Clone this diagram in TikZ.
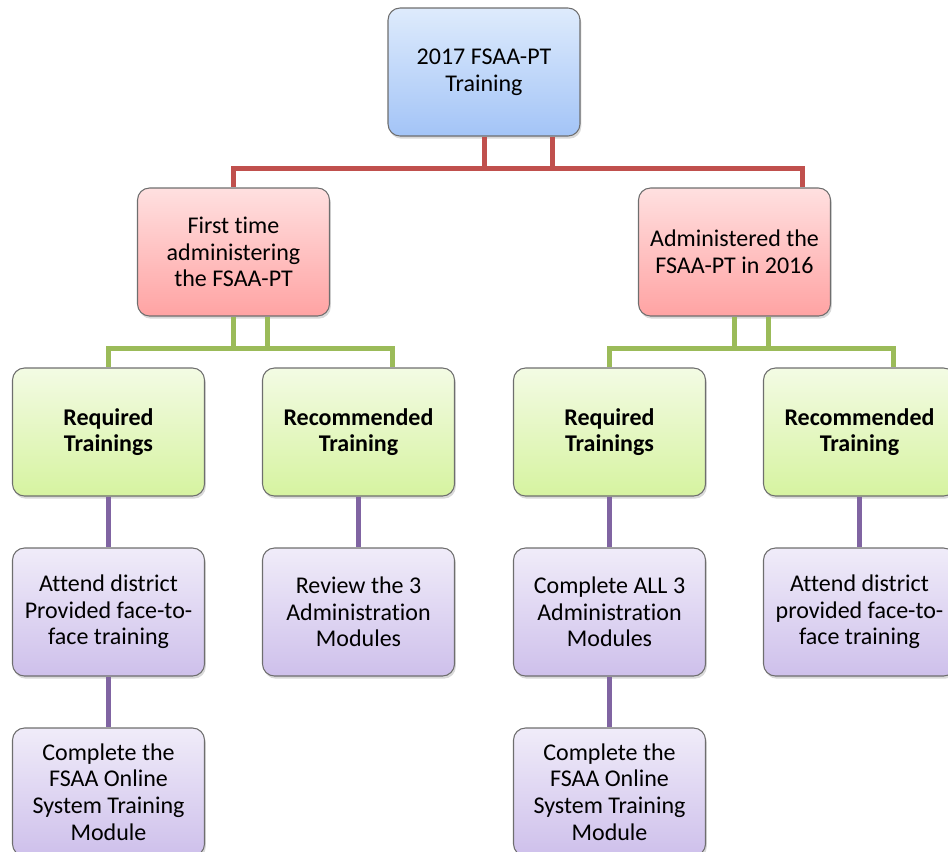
\documentclass[tikz,border=0pt]{standalone}
\usepackage{fontspec}
\setmainfont{Carlito}[Ligatures=NoCommon]
\usetikzlibrary{trees, shadows}

\definecolor{lineRed}{RGB}{192,80,77}
\definecolor{lineGreen}{RGB}{155,187,89}
\definecolor{linePurple}{RGB}{128,100,162}
\definecolor{boxEdge}{RGB}{110,110,110}

\begin{document}
\begin{tikzpicture}[
        level distance=135pt,
        level 1/.style={sibling distance=375.75pt,
            edge from parent/.style={draw=lineRed, line width=3.75pt}},
        level 2/.style={sibling distance=187.5pt,
            edge from parent/.style={draw=lineGreen, line width=3.75pt}},
        level 3/.style={edge from parent/.style={draw=linePurple, line width=3.75pt},
            edge from parent path={(\tikzparentnode.south) -- (\tikzchildnode.north)}},
        every node/.style={draw=boxEdge, line width=0.8pt, rounded corners=9pt, align=center,
            minimum width=144pt, minimum height=96pt, inner sep=2pt,
            font=\fontsize{18}{20}\selectfont,
            drop shadow={opacity=0.3, shadow xshift=1pt, shadow yshift=-2pt}},
        topbox/.style={top color={rgb,255:red,222;green,235;blue,252}, bottom color={rgb,255:red,163;green,196;blue,247}},
        pinkbox/.style={top color={rgb,255:red,255;green,224;blue,224}, bottom color={rgb,255:red,255;green,163;blue,163}},
        greenbox/.style={top color={rgb,255:red,243;green,251;blue,228}, bottom color={rgb,255:red,214;green,243;blue,160}, font=\fontsize{18}{20}\selectfont\bfseries},
        purplebox/.style={top color={rgb,255:red,240;green,236;blue,249}, bottom color={rgb,255:red,206;green,192;blue,235}},
        left stub/.style={edge from parent path={([xshift=#1]\tikzparentnode.south) -- ++(0,-24pt) -| (\tikzchildnode.north)}},
        right stub/.style={edge from parent path={(\tikzparentnode.south) -- ++(0,-24pt) -| ([xshift=#1]\tikzchildnode.north)}}
    ]
    \useasboundingbox (0,0) rectangle (711pt,-638.25pt);
    \node[topbox] (training) at (363pt,-54pt) {2017 FSAA-PT\\Training}
        child[left stub=51pt] { node[pinkbox] (firstTime) {First time\\administering\\the FSAA-PT}
            child[left stub=25.5pt] { node[greenbox] (requiredA) {Required\\Trainings}
                child { node[purplebox] (attendA) {Attend district\\Provided face-to-\\face training}
                    child { node[purplebox] (onlineA) {Complete the\\FSAA Online\\System Training\\Module}}
                }
            }
            child[right stub=25.5pt] { node[greenbox] (recommendedA) {Recommended\\Training}
                child { node[purplebox] (reviewA) {Review the 3\\Administration\\Modules}}
            }
        }
        child[right stub=51pt] { node[pinkbox] (administered) {Administered the\\FSAA-PT in 2016}
            child[left stub=25.5pt] { node[greenbox] (requiredB) {Required\\Trainings}
                child { node[purplebox] (completeB) {Complete ALL 3\\Administration\\Modules}
                    child { node[purplebox] (onlineB) {Complete the\\FSAA Online\\System Training\\Module}}
                }
            }
            child[right stub=25.5pt] { node[greenbox] (recommendedB) {Recommended\\Training}
                child { node[purplebox] (attendB) {Attend district\\provided face-to-\\face training}}
            }
        };
\end{tikzpicture}
\end{document}
